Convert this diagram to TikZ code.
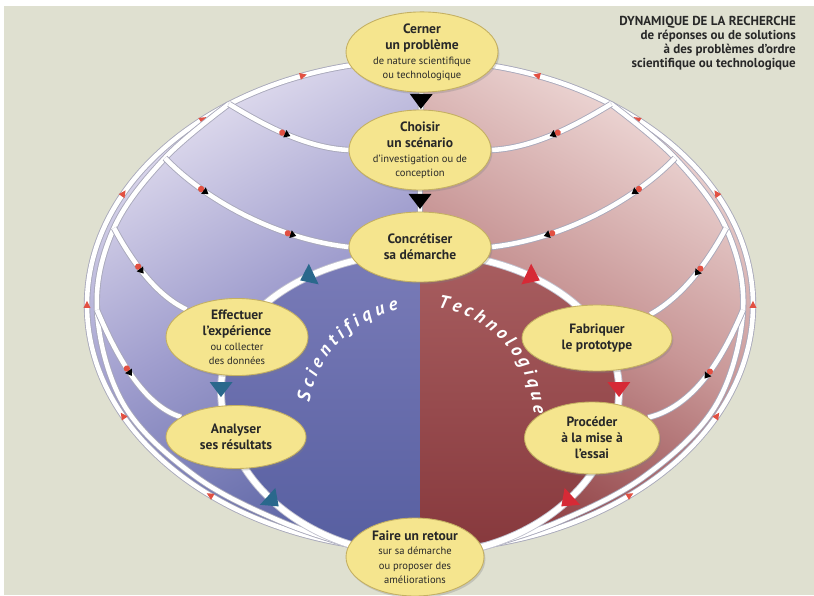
\documentclass[tikz,border=0pt]{standalone}
\usepackage{fontspec}
\setmainfont{PT Sans}
\usetikzlibrary{shapes.geometric,shadows}
\usetikzlibrary{decorations.markings,decorations.text}
\definecolor{bg_beige}{RGB}{223,224,208}
\definecolor{lav_top}{RGB}{228,224,240}
\definecolor{lav_mid}{RGB}{160,158,206}
\definecolor{lav_bot}{RGB}{94,102,166}
\definecolor{brick_top}{RGB}{240,220,218}
\definecolor{brick_mid}{RGB}{200,150,150}
\definecolor{brick_bot}{RGB}{142,62,66}
\definecolor{disc_blue_top}{RGB}{122,124,184}
\definecolor{disc_blue_bot}{RGB}{86,94,160}
\definecolor{disc_red_top}{RGB}{168,94,96}
\definecolor{disc_red_bot}{RGB}{134,56,60}
\definecolor{node_yellow}{RGB}{245,229,142}
\definecolor{node_rim}{RGB}{196,176,98}
\definecolor{rail_gray}{RGB}{168,168,186}
\definecolor{tri_blue}{RGB}{42,104,140}
\definecolor{tri_red}{RGB}{214,42,54}
\definecolor{mk_red}{RGB}{226,80,66}
\definecolor{text_dark}{RGB}{40,40,40}

\newcommand{\petit}[1]{{\mdseries\fontsize{6}{7}\selectfont #1}}
\newcommand{\redmark}{\fill[mk_red] (2.4pt,0) -- (-1.6pt,2pt) -- (-1.6pt,-2pt) -- cycle;}
\newcommand{\fanmark}{\fill[mk_red] (-2.4pt,0) circle (1.8pt); \fill[black] (2.6pt,0) -- (-0.8pt,2.3pt) -- (-0.8pt,-2.3pt) -- cycle;}
\newcommand{\bigtri}[1]{\fill[#1] (4.5pt,0) -- (-4pt,6.5pt) -- (-4pt,-6.5pt) -- cycle;}

\pgfdeclarelayer{back}
\pgfdeclarelayer{rails}
\pgfsetlayers{back,rails,main}

\begin{document}
\begin{tikzpicture}[x=0.02cm,y=-0.02cm]
    \tikzstyle{etape}=[ellipse, draw=node_rim, line width=0.5pt, fill=node_yellow, text=text_dark,
        inner sep=0pt, align=center, font=\fontsize{7.7}{8}\selectfont\bfseries,
        drop shadow={shadow xshift=0.8pt, shadow yshift=-1.2pt, opacity=0.3}]
    \tikzstyle{rail}=[draw=rail_gray, line width=0.5pt, double=white, double distance=2.6pt]
    \tikzstyle{boucle}=[draw=rail_gray!70, line width=0.5pt, double=white, double distance=3.4pt]
    \tikzstyle{fan}=[rail, postaction={decorate}]
    \tikzstyle{courbe}=[decorate, decoration={text along path, text align={fit to path}, text color=white}]

    \useasboundingbox (0,0) rectangle (814,595);

    \node[etape, minimum width=3.04cm, minimum height=1.6cm] (cerner) at (422,52)
        {Cerner\\[1.2pt] un problème\\[0.3pt] \petit{de nature scientifique}\\ \petit{ou technologique}};
    \node[etape, minimum width=2.84cm, minimum height=1.5cm] (choisir) at (420,150)
        {Choisir\\[1.2pt] un scénario\\[0.3pt] \petit{d’investigation ou de}\\ \petit{conception}};
    \node[etape, minimum width=2.84cm, minimum height=1.4cm] (concretiser) at (420,247)
        {Concrétiser\\[1.2pt] sa démarche};
    \node[etape, minimum width=2.84cm, minimum height=1.32cm] (effectuer) at (237,337)
        {Effectuer\\[1.2pt] l’expérience\\[0.3pt] \petit{ou collecter}\\ \petit{des données}};
    \node[etape, minimum width=2.8cm, minimum height=1.26cm] (analyser) at (236,437)
        {Analyser\\[1.2pt] ses résultats};
    \node[etape, minimum width=3.0cm, minimum height=1.32cm] (fabriquer) at (597,338)
        {Fabriquer\\[1.2pt] le prototype};
    \node[etape, minimum width=2.7cm, minimum height=1.44cm] (proceder) at (592,438)
        {Procéder\\[1.2pt] à la mise à\\[1.2pt] l’essai};
    \node[etape, minimum width=2.76cm, minimum height=1.56cm] (retour) at (415,557)
        {Faire un retour\\[0.3pt] \petit{sur sa démarche}\\ \petit{ou proposer des}\\ \petit{améliorations}};

    \node[anchor=north east, align=right, text=text_dark, font=\fontsize{7.4}{8}\selectfont\bfseries] (titre) at (802,10)
        {DYNAMIQUE DE LA RECHERCHE\\ de réponses ou de solutions\\ à des problèmes d’ordre\\ scientifique ou technologique};

    % points where the side tracks meet
    \coordinate (jl1) at (229,104);
    \coordinate (jl2) at (165,158);
    \coordinate (jl3) at (114,228);
    \coordinate (jl4) at (97,310);
    \coordinate (bl1) at (124,405);
    \coordinate (bl2) at (195,476);
    \coordinate (bl3) at (282,522);
    \coordinate (bl4) at (360,548);
    \coordinate (jr1) at (611,104);
    \coordinate (jr2) at (675,158);
    \coordinate (jr3) at (726,228);
    \coordinate (jr4) at (743,310);
    \coordinate (br1) at (716,405);
    \coordinate (br2) at (645,476);
    \coordinate (br3) at (558,522);
    \coordinate (br4) at (480,548);
    \coordinate (haut) at (420,253);
    \coordinate (centre) at (420,420);

    \begin{pgfonlayer}{back}
    \fill[white] (0,0) rectangle (814,595);
    \fill[bg_beige] (4,6) rectangle (814,595);
    \shade[top color=lav_top, bottom color=lav_bot, middle color=lav_mid, shading angle=30]
        (420,550) arc[start angle=90, end angle=270, x radius=333, y radius=245] -- cycle;
    \shade[top color=brick_top, bottom color=brick_bot, middle color=brick_mid, shading angle=-30]
        (420,550) arc[start angle=90, end angle=-90, x radius=333, y radius=245] -- cycle;
    \shade[top color=disc_blue_top, bottom color=disc_blue_bot]
        (haut) arc[start angle=270, end angle=180, x radius=199, y radius=137]
               arc[start angle=180, end angle=90, x radius=199, y radius=165] -- cycle;
    \shade[top color=disc_red_top, bottom color=disc_red_bot]
        (haut) arc[start angle=270, end angle=360, x radius=199, y radius=137]
               arc[start angle=0, end angle=90, x radius=199, y radius=165] -- cycle;
    \end{pgfonlayer}

    \begin{pgfonlayer}{rails}
    % outer ellipse
    \draw[fan, decoration={markings, mark=at position 0.24 with {\redmark}, mark=at position 0.37 with {\redmark},
        mark=at position 0.5 with {\redmark}, mark=at position 0.63 with {\redmark},
        mark=at position 0.75 with {\redmark}, mark=at position 0.87 with {\redmark}}]
        (420,550) arc[start angle=90, end angle=270, x radius=333, y radius=245];
    \draw[fan, decoration={markings, mark=at position 0.24 with {\redmark}, mark=at position 0.37 with {\redmark},
        mark=at position 0.5 with {\redmark}, mark=at position 0.63 with {\redmark},
        mark=at position 0.75 with {\redmark}, mark=at position 0.87 with {\redmark}}]
        (420,550) arc[start angle=90, end angle=-90, x radius=333, y radius=245];
    \draw[rail] plot[smooth, tension=0.6] coordinates {(jl1) (jl2) (jl3) (jl4) (bl1) (bl2) (bl3) (bl4)};
    \draw[rail] plot[smooth, tension=0.6] coordinates {(jr1) (jr2) (jr3) (jr4) (br1) (br2) (br3) (br4)};

    % returns toward the steps
    \draw[fan, decoration={markings, mark=at position 0.5 with {\fanmark}}]
        (jl1) .. controls (262,124) and (305,148) .. (choisir.west);
    \draw[fan, decoration={markings, mark=at position 0.25 with {\fanmark}, mark=at position 0.72 with {\fanmark}}]
        (jl2) .. controls (200,195) and (270,238) .. (concretiser.west);
    \draw[fan, decoration={markings, mark=at position 0.45 with {\fanmark}}]
        (jl3) .. controls (130,258) and (155,295) .. (effectuer.north west);
    \draw[fan, decoration={markings, mark=at position 0.5 with {\fanmark}}]
        (jl4) .. controls (112,345) and (140,405) .. (analyser.160);
    \draw[fan, decoration={markings, mark=at position 0.5 with {\fanmark}}]
        (jr1) .. controls (578,124) and (535,148) .. (choisir.east);
    \draw[fan, decoration={markings, mark=at position 0.25 with {\fanmark}, mark=at position 0.72 with {\fanmark}}]
        (jr2) .. controls (640,195) and (570,238) .. (concretiser.east);
    \draw[fan, decoration={markings, mark=at position 0.45 with {\fanmark}}]
        (jr3) .. controls (710,258) and (685,295) .. (fabriquer.north east);
    \draw[fan, decoration={markings, mark=at position 0.5 with {\fanmark}}]
        (jr4) .. controls (728,345) and (700,405) .. (proceder.20);

    % main axis
    \draw[fan, decoration={markings, mark=at position 0.5 with {\bigtri{black}}}] (cerner) -- (choisir);
    \draw[fan, decoration={markings, mark=at position 0.5 with {\bigtri{black}}}] (choisir) -- (concretiser);

    % scientific and technological loops
    \draw[boucle, postaction={decorate}, decoration={markings,
        mark=at position 0.21 with {\bigtri{tri_blue}},
        mark=at position 0.48 with {\bigtri{tri_blue}},
        mark=at position 0.71 with {\bigtri{tri_blue}}}]
        (haut) arc[start angle=270, end angle=180, x radius=199, y radius=137]
               arc[start angle=180, end angle=90, x radius=199, y radius=165];
    \draw[boucle, postaction={decorate}, decoration={markings,
        mark=at position 0.21 with {\bigtri{tri_red}},
        mark=at position 0.48 with {\bigtri{tri_red}},
        mark=at position 0.71 with {\bigtri{tri_red}}}]
        (haut) arc[start angle=270, end angle=360, x radius=199, y radius=137]
               arc[start angle=0, end angle=90, x radius=199, y radius=165];
    \end{pgfonlayer}

    % curved labels
    \path[courbe, decoration={text={|\fontsize{10.5}{10.5}\selectfont\bfseries\itshape|Scientifique}}]
        (centre) ++(189:112) arc[start angle=189, end angle=259, radius=112];
    \path[courbe, decoration={text={|\fontsize{10.5}{10.5}\selectfont\bfseries\itshape|Technologique}}]
        (centre) ++(279:114) arc[start angle=279, end angle=357, radius=114];
\end{tikzpicture}
\end{document}
